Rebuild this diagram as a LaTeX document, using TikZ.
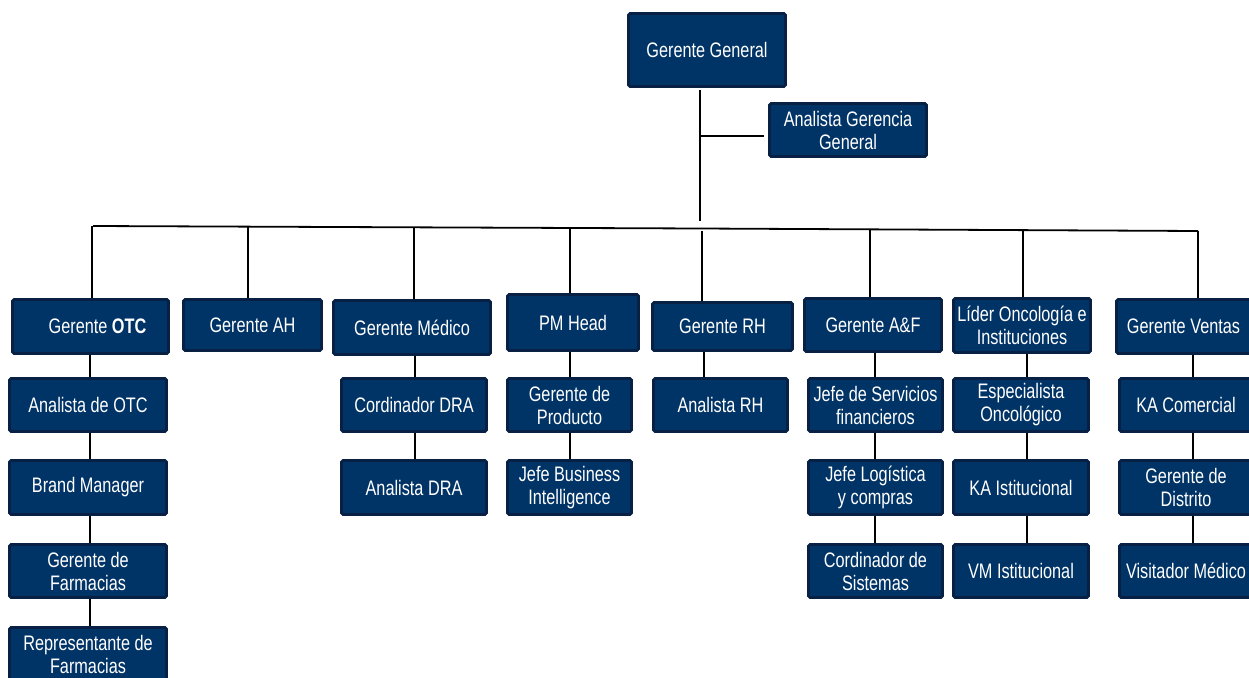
\documentclass[tikz,border=0pt]{standalone}
\usepackage{fontspec}
\setmainfont[FakeStretch=0.775]{Liberation Sans}
\usetikzlibrary{backgrounds}
\definecolor{boxfill}{RGB}{0,51,102}
\definecolor{boxedge}{RGB}{8,32,68}
\tikzset{
  box/.style={draw=boxedge, line width=2.6pt, fill=boxfill, rounded corners=1.5pt,
    text=white, align=center, inner sep=1pt,
    font=\fontsize{21}{23}\selectfont},
  conn/.style={draw=black, line width=1.4pt},
  busline/.style={draw=black, line width=1.8pt}
}
\begin{document}
\begin{tikzpicture}[x=1pt,y=-1pt]
\useasboundingbox (0,0) rectangle (1249,677);
\clip (0,0) rectangle (1249,677);
% top
\node[box, minimum width=157pt, minimum height=73pt] (gg) at (707,50) {Gerente General};
\node[box, minimum width=157pt, minimum height=53pt] (agg) at (848,130) {Analista Gerencia\\General};
% top level
\node[box, minimum width=156pt, minimum height=54pt] (otc) at (90.5,326.5) {\hspace{14pt}Gerente \textbf{OTC}};
\node[box, minimum width=138pt, minimum height=51pt] (ah) at (252.5,325) {Gerente AH};
\node[box, minimum width=157pt, minimum height=54pt] (med) at (412,327.5) {Gerente Médico};
\node[box, minimum width=131pt, minimum height=56pt] (pm) at (573,322.5) {PM Head};
\node[box, minimum width=140pt, minimum height=48pt] (rh) at (722.5,326.5) {Gerente RH};
\node[box, minimum width=137pt, minimum height=53pt] (af) at (873,325) {Gerente A\&F};
\node[box, minimum width=137pt, minimum height=54pt] (onc) at (1022,325.5) {Líder Oncología e\\Instituciones};
\node[box, minimum width=134pt, minimum height=54pt] (ven) at (1183.5,326.5) {Gerente Ventas};
% row 2
\node[box, minimum width=157pt, minimum height=53pt] (aotc) at (88,405) {Analista de OTC};
\node[box, minimum width=145pt, minimum height=53pt] (cdra) at (414,405) {Cordinador DRA};
\node[box, minimum width=124pt, minimum height=53pt] (gprod) at (569.5,405) {Gerente de\\Producto};
\node[box, minimum width=134pt, minimum height=53pt] (arh) at (720.5,405) {Analista RH};
\node[box, minimum width=134pt, minimum height=53pt] (jsf) at (875.5,405) {Jefe de Servicios\\financieros};
\node[box, minimum width=135pt, minimum height=53pt] (eonc) at (1021,405) {Especialista\\Oncológico};
\node[box, minimum width=133pt, minimum height=53pt] (kac) at (1186,405) {KA Comercial};
% row 3
\node[box, minimum width=157pt, minimum height=54pt] (bm) at (88,487.5) {Brand Manager};
\node[box, minimum width=145pt, minimum height=54pt] (adra) at (414,487.5) {Analista DRA};
\node[box, minimum width=124pt, minimum height=54pt] (jbi) at (569.5,487.5) {Jefe Business\\Intelligence};
\node[box, minimum width=134pt, minimum height=54pt] (jlog) at (875.5,487.5) {Jefe Logística\\y compras};
\node[box, minimum width=135pt, minimum height=54pt] (kai) at (1021,487.5) {KA Istitucional};
\node[box, minimum width=133pt, minimum height=54pt] (gdis) at (1186,487.5) {Gerente de\\Distrito};
% row 4
\node[box, minimum width=157pt, minimum height=53pt] (gfar) at (88,571) {Gerente de\\Farmacias};
\node[box, minimum width=134pt, minimum height=53pt] (csis) at (875.5,571) {Cordinador de\\Sistemas};
\node[box, minimum width=135pt, minimum height=53pt] (vmi) at (1021,571) {VM Istitucional};
\node[box, minimum width=133pt, minimum height=53pt] (vmed) at (1186,571) {Visitador Médico};
% row 5
\node[box, minimum width=157pt, minimum height=54pt] (rfar) at (88,654.5) {Representante de\\Farmacias};

\begin{pgfonlayer}{background}
% general manager trunk
\coordinate (trunkEnd) at (700,221);
\coordinate (trunkTop) at (700,90);
\draw[conn] (trunkTop) -- (trunkEnd);
\coordinate (aggJ) at (700,136);
\draw[conn] (aggJ) -- ([xshift=-4pt]aggJ -| agg.west);
% bus
\coordinate (busL) at (93,226);
\coordinate (busM) at (700,228.5);
\coordinate (busR) at (1198,231);
\draw[busline] (busL) -- (busM) -- (busR);
% drops to top level
\coordinate (bOTC) at (92,226);
\coordinate (bAH) at (248,226.5);
\coordinate (bMED) at (414,227.5);
\coordinate (bPM) at (570,228);
\coordinate (bRH) at (702,231);
\coordinate (bAF) at (870,229.5);
\coordinate (bONC) at (1023,230);
\coordinate (bVEN) at (1198,231);
\draw[conn] (bOTC) -- (bOTC |- otc.north);
\draw[conn] (bAH) -- (bAH |- ah.north);
\draw[conn] (bMED) -- (bMED |- med.north);
\draw[conn, line width=1.8pt] (bPM) -- ([yshift=-8pt]bPM |- pm.north);
\draw[conn] (bRH) -- (bRH |- rh.north);
\draw[conn] (bAF) -- (bAF |- af.north);
\draw[conn] (bONC) -- (bONC |- onc.north);
\draw[conn] (bVEN) -- ([yshift=-6pt]bVEN |- ven.north);
% columns
\coordinate (cOTC) at (90,0);
\coordinate (cMED) at (415,0);
\coordinate (cPM) at (570,0);
\coordinate (cRH) at (704,0);
\coordinate (cAF) at (875,0);
\coordinate (cONC) at (1027,0);
\coordinate (cVEN) at (1193,0);
\draw[conn] (cOTC |- otc.south) -- (cOTC |- aotc.north);
\draw[conn] (cOTC |- aotc.south) -- (cOTC |- bm.north);
\draw[conn] (cOTC |- bm.south) -- (cOTC |- gfar.north);
\draw[conn] (cOTC |- gfar.south) -- (cOTC |- rfar.north);
\draw[conn] (cMED |- med.south) -- (cMED |- cdra.north);
\draw[conn] (cMED |- cdra.south) -- (cMED |- adra.north);
\draw[conn] (cPM |- pm.south) -- (cPM |- gprod.north);
\draw[conn] (cPM |- gprod.south) -- (cPM |- jbi.north);
\draw[conn] (cRH |- rh.south) -- (cRH |- arh.north);
\draw[conn] (cAF |- af.south) -- (cAF |- jsf.north);
\draw[conn] (cAF |- jsf.south) -- (cAF |- jlog.north);
\draw[conn] (cAF |- jlog.south) -- (cAF |- csis.north);
\draw[conn] (cONC |- onc.south) -- (cONC |- eonc.north);
\draw[conn] (cONC |- eonc.south) -- (cONC |- kai.north);
\draw[conn] (cONC |- kai.south) -- (cONC |- vmi.north);
\draw[conn] (cVEN |- ven.south) -- (cVEN |- kac.north);
\draw[conn] (cVEN |- kac.south) -- (cVEN |- gdis.north);
\draw[conn] (cVEN |- gdis.south) -- (cVEN |- vmed.north);
\end{pgfonlayer}
\end{tikzpicture}
\end{document}
